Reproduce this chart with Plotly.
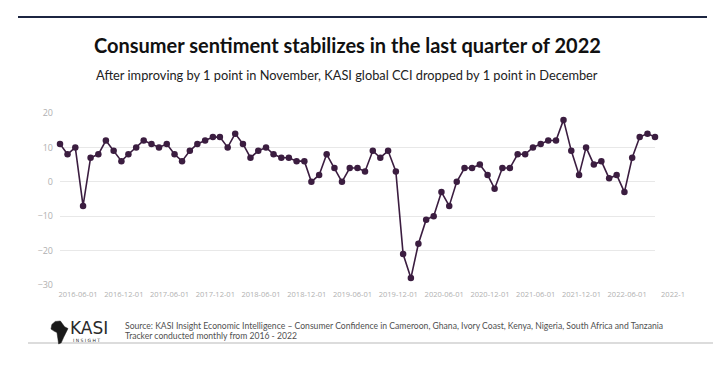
import plotly.graph_objects as go
import pandas as pd

# ---- data ----
start_month = "2016-06-01"
end_month = "2022-12-01"
cci = [11, 8, 10, -7, 7, 8, 12, 9, 6, 8, 10, 12, 11, 10, 11, 8, 6, 9, 11, 12,
       13, 13, 10, 14, 11, 7, 9, 10, 8, 7, 7, 6, 6, 0, 2, 8, 4, 0, 4, 4,
       3, 9, 7, 9, 3, -21, -28, -18, -11, -10, -3, -7, 0, 4, 4, 5, 2, -2, 4, 4,
       8, 8, 10, 11, 12, 12, 18, 9, 2, 10, 5, 6, 1, 2, -3, 7, 13, 14, 13]
months = pd.date_range(start_month, end_month, freq="MS")

tick_dates = ["2016-06-01", "2016-12-01", "2017-06-01", "2017-12-01", "2018-06-01",
              "2018-12-01", "2019-06-01", "2019-12-01", "2020-06-01", "2020-12-01",
              "2021-06-01", "2021-12-01", "2022-06-01", "2022-12-01"]
tick_labels = ["2016-06-01", "2016-12-01", "2017-06-01", "2017-12-01", "2018-06-01",
               "2018-12-01", "2019-06-01", "2019-12-01", "2020-06-01", "2020-12-01",
               "2021-06-01", "2021-12-01", "2022-06-01", "2022-1"]
y_ticks = [-30, -20, -10, 0, 10, 20]

title_text = "Consumer sentiment stabilizes in the last quarter of 2022"
subtitle_text = "After improving by 1 point in November, KASI global CCI dropped by 1 point in December"
source_line1 = ("Source: KASI Insight Economic Intelligence – Consumer Confidence in Cameroon, Ghana, "
                "Ivory Coast, Kenya, Nigeria, South Africa and Tanzania")
source_line2 = "Tracker conducted monthly from 2016 - 2022"

W, H = 722, 389
ML, MR, MT, MB = 60, 67, 113, 104
PW, PH = W - ML - MR, H - MT - MB
LINE_COLOR = "#3b1d40"


def px(x):
    # page pixel -> paper coordinate (paper is the plot area)
    return (x - ML) / PW


def py(y):
    return (H - MB - y) / PH


fig = go.Figure()
fig.add_trace(go.Scatter(
    x=months, y=cci, mode="lines+markers",
    line=dict(color=LINE_COLOR, width=1.6),
    marker=dict(color=LINE_COLOR, size=6.5),
    cliponaxis=False, showlegend=False,
))

# Africa silhouette for the logo (decoration)
africa = [(0.05, 0.15), (0.25, 0.02), (0.55, 0.0), (0.65, 0.1), (0.8, 0.25), (1.0, 0.33),
          (0.85, 0.55), (0.75, 0.7), (0.6, 0.95), (0.45, 1.0), (0.4, 0.75), (0.35, 0.5),
          (0.2, 0.45), (0.0, 0.35)]
bx, by, bw, bh = 51, 321, 17, 23
path = "M " + " L ".join(f"{px(bx + nx * bw):.5f},{py(by + ny * bh):.5f}" for nx, ny in africa) + " Z"

shapes = [
    dict(type="line", xref="paper", yref="paper", x0=px(18), x1=px(707), y0=py(17), y1=py(17),
         line=dict(color="#1c2541", width=2)),
    dict(type="line", xref="paper", yref="paper", x0=px(28), x1=px(713), y0=py(343), y1=py(343),
         line=dict(color="#dcdcdc", width=2)),
    dict(type="path", xref="paper", yref="paper", path=path, fillcolor="#1a1a1a",
         line=dict(color="#1a1a1a", width=0.5)),
]

annotations = [
    dict(text=f"<b>{title_text}</b>", x=px(347), y=py(45), xref="paper", yref="paper",
         showarrow=False, xanchor="center", yanchor="middle",
         font=dict(family="Lato", size=20, color="#111111")),
    dict(text=subtitle_text, x=px(347), y=py(75), xref="paper", yref="paper",
         showarrow=False, xanchor="center", yanchor="middle",
         font=dict(family="Lato", size=12.8, color="#222222")),
    dict(text="KASI", x=px(68), y=py(328), xref="paper", yref="paper",
         showarrow=False, xanchor="left", yanchor="middle",
         font=dict(family="DejaVu Sans", size=17, color="#2a2a2a")),
    dict(text="I N S I G H T", x=px(71), y=py(340), xref="paper", yref="paper",
         showarrow=False, xanchor="left", yanchor="middle",
         font=dict(family="DejaVu Sans", size=4.5, color="#2a2a2a")),
    dict(text=source_line1, x=px(123), y=py(326), xref="paper", yref="paper",
         showarrow=False, xanchor="left", yanchor="middle",
         font=dict(family="Lato", size=8.6, color="#505050")),
    dict(text=source_line2, x=px(123), y=py(336), xref="paper", yref="paper",
         showarrow=False, xanchor="left", yanchor="middle",
         font=dict(family="Lato", size=8.6, color="#505050")),
]

fig.update_layout(
    width=W, height=H,
    margin=dict(l=ML, r=MR, t=MT, b=MB),
    paper_bgcolor="white", plot_bgcolor="white",
    shapes=shapes, annotations=annotations,
    xaxis=dict(
        type="date", range=[start_month, end_month],
        tickvals=tick_dates, ticktext=tick_labels,
        showgrid=False, zeroline=False, showline=False, ticks="",
        ticklabelshift=18, ticklabelstandoff=3,
        tickfont=dict(family="Open Sans", size=7.5, color="#b0b0b0"),
        tickangle=0,
    ),
    yaxis=dict(
        range=[-30, 20], tickvals=y_ticks,
        showgrid=True, gridcolor="#e8e8e8", gridwidth=1,
        zeroline=False, showline=False, ticks="",
        ticklabelstandoff=6,
        tickfont=dict(family="Open Sans", size=9, color="#b0b0b0"),
    ),
)

fig.write_html("out.html", config={"displayModeBar": False},
               post_script="document.body.style.margin='0';")
